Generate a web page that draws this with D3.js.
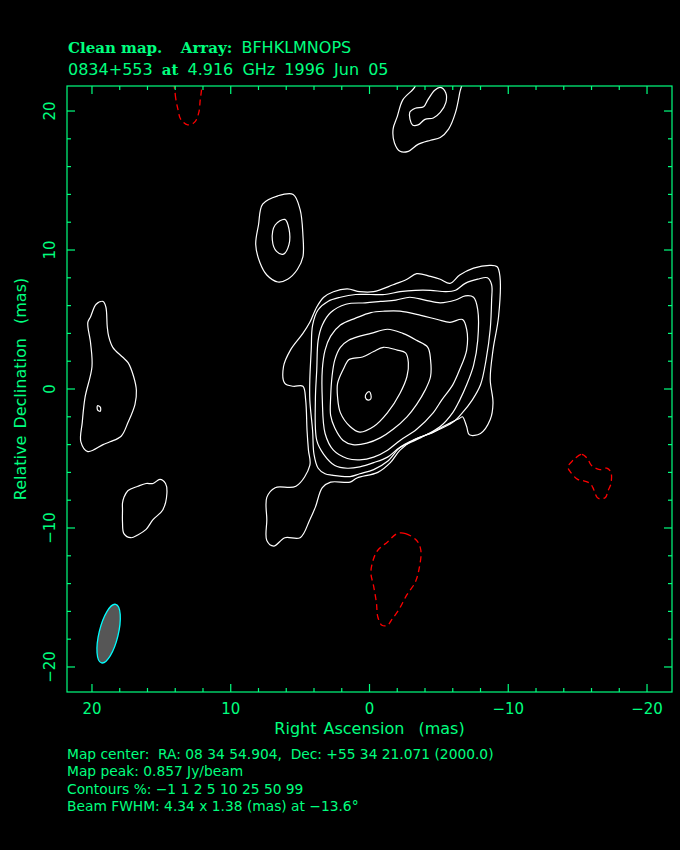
<!DOCTYPE html>
<html><head><meta charset="utf-8">
<script src="https://cdn.jsdelivr.net/npm/d3@7"></script>
<style>body{margin:0;background:#000;} svg{display:block;background:#000;} text{white-space:pre;}</style>
</head><body>
<svg id="chart" width="680" height="850"></svg>
<script>
// ---------- data (relative RA, Dec in mas) ----------
const axisDomain = [21.8, -21.8];
const majorTicks = [20, 10, 0, -10, -20];
const minorTicks = [18,16,14,12,8,6,4,2,-2,-4,-6,-8,-12,-14,-16,-18];
const tickLabels = ["20", "10", "0", "\u221210", "\u221220"];
const contourLevels = [-1, 1, 2, 5, 10, 25, 50, 99];

// negative (-1%) contours
const neg1TopLeft = [[14.0,22.6],[14.0,21.2],[13.8,20.1],[13.6,19.4],[13.1,19.0],[12.6,19.2],[12.3,19.9],[12.2,20.8],[12.1,21.7],[12.2,22.6],[13.1,23.2]];
const neg1Bottom = [[-2.0,-10.4],[-2.6,-10.4],[-3.4,-10.9],[-3.7,-11.6],[-3.6,-12.8],[-3.3,-13.9],[-2.7,-14.8],[-2.1,-15.9],[-1.6,-16.6],[-1.3,-17.0],[-0.9,-17.0],[-0.6,-16.4],[-0.5,-15.4],[-0.3,-14.2],[-0.1,-13.2],[-0.3,-12.2],[-0.6,-11.6],[-1.3,-11.0]];
const neg1Right = [[-14.8,-5.0],[-15.3,-4.7],[-15.7,-5.0],[-16.0,-5.5],[-16.6,-5.8],[-17.1,-5.7],[-17.4,-6.0],[-17.4,-6.8],[-17.2,-7.3],[-17.0,-7.8],[-16.6,-7.9],[-16.4,-7.8],[-16.1,-7.1],[-15.9,-6.8],[-15.4,-6.6],[-15.0,-6.5],[-14.5,-6.0],[-14.3,-5.6],[-14.6,-5.2]];

// positive contours, outer features
const c1Top = [[-3.3,22.6],[-3.3,21.8],[-2.4,20.8],[-2.0,19.6],[-1.7,18.7],[-1.8,17.7],[-2.2,17.1],[-2.8,17.1],[-3.5,17.6],[-4.4,17.9],[-5.1,18.1],[-5.7,18.7],[-6.2,19.9],[-6.5,21.3],[-6.7,22.6],[-5.0,23.2]];
const c2Top = [[-2.9,19.9],[-3.1,19.0],[-3.5,19.0],[-4.0,19.4],[-4.6,19.5],[-5.1,19.9],[-5.5,20.6],[-5.5,21.3],[-5.1,21.7],[-4.7,21.5],[-4.2,20.8],[-3.9,20.3],[-3.3,20.2]];
const c1Island = [[8.2,10.4],[8.0,11.8],[7.7,13.3],[6.6,13.9],[5.5,14.0],[5.0,12.9],[4.8,11.1],[4.8,9.5],[5.2,8.6],[5.9,7.9],[6.6,7.7],[7.4,8.2],[7.9,9.1]];
const c2Island = [[7.0,10.7],[6.8,11.8],[6.1,12.2],[5.8,11.5],[5.8,10.4],[6.2,9.7],[6.7,9.9]];
const c1Left = [[19.2,6.3],[19.7,6.1],[20.1,5.2],[20.3,4.8],[20.1,3.3],[20.0,1.6],[20.5,-0.6],[20.7,-2.4],[20.8,-3.8],[20.3,-4.5],[19.2,-4.0],[18.7,-3.8],[17.9,-3.4],[17.4,-2.4],[16.9,-1.1],[16.8,-0.1],[17.0,0.9],[17.4,1.9],[17.8,2.3],[18.5,3.0],[18.8,3.8],[18.9,4.5],[19.0,5.9]];
const c2Left = [[19.6,-1.2],[19.4,-1.3],[19.4,-1.6],[19.6,-1.5]];
const c1LowerLeft = [[17.8,-8.2],[17.7,-7.8],[17.4,-7.3],[16.7,-7.0],[16.1,-6.8],[15.6,-6.8],[15.1,-6.5],[14.7,-6.8],[14.6,-7.5],[14.9,-8.7],[15.6,-9.4],[16.1,-10.1],[16.7,-10.5],[17.2,-10.7],[17.7,-10.4],[17.8,-9.6],[17.8,-8.7]];

// positive contours, core
const c1Core = [[3.8,5.9],[3.3,6.6],[2.6,7.0],[1.6,7.2],[0.7,7.0],[-0.3,7.0],[-1.7,7.5],[-2.7,7.9],[-3.4,8.3],[-4.4,8.1],[-5.1,7.9],[-5.8,7.6],[-6.5,8.2],[-7.5,8.7],[-8.7,8.9],[-9.2,8.8],[-9.4,8.1],[-9.3,5.2],[-8.9,2.8],[-8.7,0.7],[-8.9,-1.0],[-8.7,-2.2],[-8.0,-3.2],[-7.2,-3.3],[-7.0,-2.7],[-6.7,-2.0],[-6.5,-2.1],[-5.3,-2.7],[-4.6,-3.1],[-3.1,-3.7],[-2.2,-4.4],[-1.5,-5.3],[-0.6,-6.0],[0.9,-6.4],[1.4,-6.7],[2.8,-6.7],[3.4,-7.1],[3.9,-8.5],[4.3,-9.4],[5.0,-10.7],[6.1,-10.7],[6.9,-11.3],[7.4,-10.9],[7.4,-9.4],[7.4,-7.8],[6.8,-7.1],[5.3,-7.0],[4.3,-5.5],[4.4,-4.4],[4.5,-3.0],[4.6,-0.8],[4.8,0.2],[5.5,0.2],[6.1,0.4],[6.2,1.6],[5.7,2.8],[4.8,4.0],[4.3,4.8]];
const c2Core = [[3.7,5.7],[4.1,4.6],[4.2,2.8],[4.3,0.7],[4.3,-0.8],[4.1,-3.0],[4.0,-4.7],[3.7,-5.7],[3.2,-6.1],[2.7,-6.2],[1.4,-6.3],[0.7,-6.1],[-0.3,-5.8],[-1.3,-5.2],[-2.2,-4.2],[-3.1,-3.7],[-4.6,-3.1],[-6.0,-2.4],[-6.7,-1.7],[-7.4,-0.8],[-8.0,0.3],[-8.4,2.1],[-8.7,4.3],[-8.8,6.4],[-8.8,7.5],[-8.5,8.0],[-7.8,7.9],[-6.9,7.6],[-6.2,7.1],[-5.5,7.0],[-4.4,7.1],[-3.3,7.1],[-2.2,7.0],[-1.1,6.8],[-0.1,6.8],[1.0,6.8],[2.1,6.6],[3.0,6.3]];
const c5Core = [[3.7,3.5],[3.8,1.4],[3.9,-0.8],[3.8,-3.7],[3.3,-4.7],[2.5,-5.5],[1.6,-5.7],[0.7,-5.6],[-0.3,-5.3],[-1.3,-4.9],[-2.2,-4.2],[-3.7,-3.5],[-5.1,-2.7],[-6.0,-1.7],[-6.5,-0.8],[-7.0,0.3],[-7.5,1.7],[-7.8,3.5],[-7.8,5.7],[-7.5,6.6],[-6.9,6.7],[-6.2,6.4],[-5.1,6.2],[-4.0,6.4],[-2.9,6.6],[-1.9,6.4],[-0.8,6.3],[0.3,6.2],[1.7,6.1],[2.8,5.5],[3.4,4.6]];
const c10Core = [[3.2,2.8],[3.4,1.4],[3.4,-0.8],[3.2,-3.2],[2.6,-4.4],[1.6,-5.0],[0.7,-5.1],[-0.3,-4.9],[-1.3,-4.4],[-2.2,-3.7],[-3.4,-2.9],[-4.6,-1.7],[-5.2,-0.8],[-6.0,0.3],[-6.5,1.4],[-7.0,2.8],[-7.0,4.3],[-6.7,5.0],[-5.8,4.8],[-4.9,5.0],[-3.7,5.3],[-2.2,5.6],[-1.1,5.6],[-0.1,5.5],[1.0,5.1],[2.1,4.6],[2.8,3.8]];
const c25Core = [[2.1,3.0],[2.5,2.1],[2.7,0.9],[2.8,-0.6],[2.8,-1.9],[2.5,-2.8],[1.9,-3.7],[1.2,-4.0],[0.2,-3.9],[-0.8,-3.5],[-1.7,-2.9],[-2.7,-2.0],[-3.4,-1.1],[-4.0,-0.1],[-4.4,0.9],[-4.4,2.1],[-4.2,3.0],[-3.4,3.5],[-2.4,4.0],[-1.3,4.3],[-0.1,4.0],[0.7,3.8],[1.5,3.5]];
const c50Core = [[1.5,2.1],[1.9,1.4],[2.3,0.4],[2.3,-0.6],[2.1,-1.7],[1.4,-2.7],[0.7,-3.1],[-0.3,-2.7],[-1.3,-1.7],[-2.2,-0.3],[-2.7,0.9],[-2.8,1.9],[-2.6,2.6],[-2.0,2.8],[-1.0,3.0],[-0.3,2.7],[0.5,2.3],[1.2,2.2]];
const c99Core = [[0.2,-0.3],[0.0,-0.2],[-0.1,-0.4],[-0.1,-0.7],[0.1,-0.8],[0.3,-0.6]];

// beam: centre (mas), FWHM major/minor (mas), position angle (deg)
const beamCenter = [18.8, -17.6];
const beamFWHM = [4.34, 1.38];
const beamPA = -13.6;

const titleLine1 = [["Clean map.", "serif"], ["  Array: ", "serif"], ["BFHKLMNOPS", "sans"]];
const titleLine2 = [["0834+553 ", "sans"], ["at", "serif"], [" 4.916 GHz 1996 Jun 05", "sans"]];
const footerLines = [
  "Map center:  RA: 08 34 54.904,  Dec: +55 34 21.071 (2000.0)",
  "Map peak: 0.857 Jy/beam",
  "Contours %: \u22121 1 2 5 10 25 50 99",
  "Beam FWHM: 4.34 x 1.38 (mas) at \u221213.6\u00b0"
];
const xLabel = "Right Ascension  (mas)";
const yLabel = "Relative Declination  (mas)";

const contours = [
  {pts: neg1TopLeft, level: -1}, {pts: neg1Bottom, level: -1}, {pts: neg1Right, level: -1},
  {pts: c1Top, level: 1}, {pts: c2Top, level: 2},
  {pts: c1Island, level: 1}, {pts: c2Island, level: 2},
  {pts: c1Left, level: 1}, {pts: c2Left, level: 2}, {pts: c1LowerLeft, level: 1},
  {pts: c1Core, level: 1}, {pts: c2Core, level: 2}, {pts: c5Core, level: 5},
  {pts: c10Core, level: 10}, {pts: c25Core, level: 25}, {pts: c50Core, level: 50}, {pts: c99Core, level: 99}
];

// ---------- drawing ----------
const GREEN = "#00ff7f";
const SANS = "'DejaVu Sans', sans-serif";
const SERIF = "'DejaVu Serif', serif";
const svg = d3.select("#chart");
const L = 67, R = 672, T = 86, B = 692;
const x = d3.scaleLinear().domain(axisDomain).range([L, R]);
const y = d3.scaleLinear().domain(axisDomain).range([T, B]);

svg.append("rect").attr("width", 680).attr("height", 850).attr("fill", "#000");

svg.append("defs").append("clipPath").attr("id", "frameClip")
  .append("rect").attr("x", L).attr("y", T).attr("width", R - L).attr("height", B - T);

const plot = svg.append("g").attr("clip-path", "url(#frameClip)");
const line = d3.line().x(d => x(d[0])).y(d => y(d[1])).curve(d3.curveCatmullRomClosed.alpha(0.5));

plot.selectAll("path.contour").data(contours).join("path")
  .attr("class", "contour")
  .attr("d", d => line(d.pts))
  .attr("fill", "none")
  .attr("stroke", d => d.level < 0 ? "#ff0000" : "#ffffff")
  .attr("stroke-width", d => d.level < 0 ? 1.3 : 1.2)
  .attr("stroke-dasharray", d => d.level < 0 ? "6,4" : null);

// beam
const pxPerMas = Math.abs(x(1) - x(0));
plot.append("ellipse")
  .attr("cx", 0).attr("cy", 0)
  .attr("rx", beamFWHM[1] / 2 * pxPerMas)
  .attr("ry", beamFWHM[0] / 2 * pxPerMas)
  .attr("transform", `translate(${x(beamCenter[0])},${y(beamCenter[1])}) rotate(${-beamPA})`)
  .attr("fill", "#565656").attr("stroke", "#00ffff").attr("stroke-width", 1.3);

// frame
const axes = svg.append("g").attr("stroke", GREEN).attr("fill", "none").attr("stroke-width", 1.2);
axes.append("rect").attr("x", L).attr("y", T).attr("width", R - L).attr("height", B - T);

function ticks(vals, len) {
  vals.forEach(v => {
    const xv = x(v), yv = y(v);
    axes.append("line").attr("x1", xv).attr("x2", xv).attr("y1", B).attr("y2", B - len);
    axes.append("line").attr("x1", xv).attr("x2", xv).attr("y1", T).attr("y2", T + len);
    axes.append("line").attr("y1", yv).attr("y2", yv).attr("x1", L).attr("x2", L + len);
    axes.append("line").attr("y1", yv).attr("y2", yv).attr("x1", R).attr("x2", R - len);
  });
}
ticks(majorTicks, 8);
ticks(minorTicks, 4);

const txt = svg.append("g").attr("fill", GREEN).attr("font-family", SANS);

// tick labels
majorTicks.forEach((v, i) => {
  txt.append("text").attr("x", x(v)).attr("y", 714).attr("text-anchor", "middle")
    .attr("font-size", 15).text(tickLabels[i]);
  txt.append("text").attr("transform", `translate(55,${y(v)}) rotate(-90)`)
    .attr("text-anchor", "middle").attr("font-size", 15).text(tickLabels[i]);
});

txt.append("text").attr("x", (L + R) / 2).attr("y", 734).attr("text-anchor", "middle")
  .attr("font-size", 16).attr("word-spacing", 2).text(xLabel);
txt.append("text").attr("transform", `translate(26,${(T + B) / 2}) rotate(-90)`)
  .attr("text-anchor", "middle").attr("font-size", 16).attr("word-spacing", 2).text(yLabel);

// title
function titleLine(parts, yy) {
  const t = txt.append("text").attr("x", 68).attr("y", yy);
  parts.forEach((p, i) => t.append("tspan")
    .attr("font-family", p[1] === "serif" ? SERIF : SANS)
    .attr("font-weight", p[1] === "serif" ? "bold" : "normal")
    .attr("font-size", p[1] === "serif" ? 15 : 16)
    .attr("word-spacing", i === 0 && p[1] === "serif" ? 0 : 4)
    .text(p[0]));
}
titleLine(titleLine1, 53);
titleLine(titleLine2, 75);

footerLines.forEach((s, i) => {
  txt.append("text").attr("x", 67).attr("y", 759 + i * 17.4).attr("font-size", 13.8).text(s);
});
</script>
</body></html>
